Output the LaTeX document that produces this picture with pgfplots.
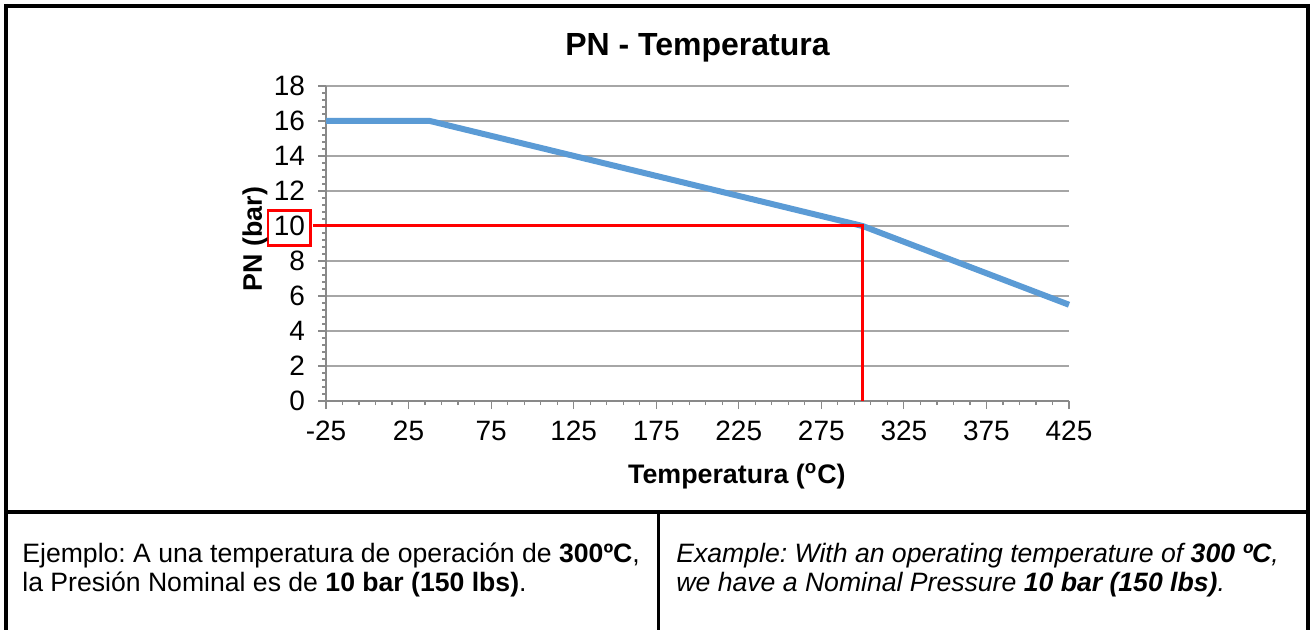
\documentclass[border=0pt]{standalone}
\usepackage{pgfplots}
\pgfplotsset{compat=1.18}
\usepackage{fontspec}
\setmainfont{Liberation Sans}
\frenchspacing

\definecolor{lineblue}{HTML}{5B9BD5}
\definecolor{gridgray}{HTML}{A6A6A6}
\definecolor{axisgray}{HTML}{898989}

\begin{document}
\begin{tikzpicture}
\useasboundingbox (0,0) rectangle (655pt,-315pt);

% frame and table (pixel units of the reference)
\begin{scope}[x=0.5pt,y=-0.5pt]
  \draw[line width=2pt] (5.5,6) -- (1308,6);
  \draw[line width=2pt] (5.5,4) -- (5.5,640);
  \draw[line width=1.6pt] (1308,4) -- (1308,640);
  \draw[line width=1.7pt] (5.5,512) -- (1308,512);
  \draw[line width=1.5pt] (658,512) -- (658,640);

  \draw[red, line width=1.2pt] (268,210.5) rectangle (310.5,245.5);

  \begin{scope}[every node/.style={anchor=base west, inner sep=0pt, font=\fontsize{13.3}{15}\selectfont}]
    \node at (22,562) {Ejemplo: A una temperatura de operación de \textbf{300ºC},};
    \node at (22,591.5) {la Presión Nominal es de \textbf{10 bar (150 lbs)}.};
    \node at (676,562) {\itshape Example: With an operating temperature of \textbf{300 ºC},};
    \node at (676,591.5) {\itshape we have a Nominal Pressure \textbf{10 bar (150 lbs)}.};
  \end{scope}
\end{scope}

\begin{axis}[
    at={(163pt,-200.5pt)},
    anchor=south west,
    scale only axis,
    width=371.5pt,
    height=157.5pt,
    xmin=-25, xmax=425,
    ymin=0, ymax=18,
    xtick={-25,25,...,425},
    ytick={0,2,...,18},
    minor x tick num=4,
    minor y tick num=4,
    axis x line=bottom,
    axis y line=left,
    axis line style={-, axisgray, line width=0.6pt},
    every tick/.style={axisgray, line width=0.6pt},
    xtick align=outside,
    ytick align=outside,
    major tick length=4pt,
    minor tick length=2pt,
    ymajorgrids,
    major grid style={gridgray, line width=0.6pt},
    tick label style={font=\fontsize{14}{16}\selectfont},
    /pgf/number format/assume math mode=true,
    xticklabel style={yshift=-2.5pt},
    yticklabel style={xshift=-3pt},
    clip=false,
    title={PN - Temperatura},
    title style={at={(axis description cs:0.5,1.083)}, anchor=center,
                 font=\fontsize{16}{18}\selectfont\bfseries},
    xlabel={Temperatura (\textsuperscript{o}C)},
    xlabel style={at={(axis description cs:0.553,-0.238)}, anchor=center,
                  font=\fontsize{13.4}{15}\selectfont\bfseries},
    ylabel={PN (bar)},
    ylabel style={at={(axis description cs:-0.0956,0.514)}, anchor=center,
                  font=\fontsize{13.4}{15}\selectfont\bfseries},
  ]
  \addplot[lineblue, line width=3pt, line join=round] coordinates {
    (-25,16) (38,16) (300,10) (425,5.5)
  };
  \addplot[red, line width=1.5pt] coordinates {
    (-33,10) (300,10) (300,0)
  };
\end{axis}
\end{tikzpicture}
\end{document}
